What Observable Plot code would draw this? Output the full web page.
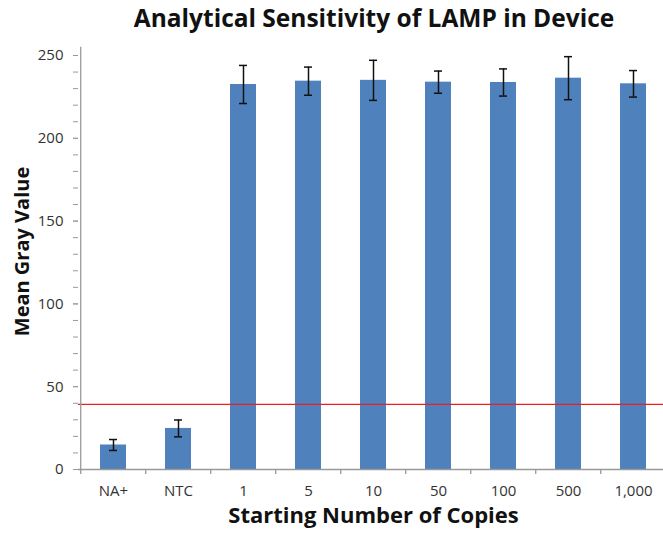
<!DOCTYPE html>
<html>
<head>
<meta charset="utf-8">
<script src="https://cdn.jsdelivr.net/npm/d3@7"></script>
<script src="https://cdn.jsdelivr.net/npm/@observablehq/plot@0.6"></script>
<style>
  body { margin: 0; background: #fff; }
  #title { font-family: "Open Sans", sans-serif; font-weight: 700; font-size: 24.5px; line-height: 30px; height: 45px; box-sizing: border-box; padding-top: 3px; padding-left: 85px; width: 663px; text-align: center; color: #111; white-space: nowrap; }
</style>
</head>
<body>
<div id="title">Analytical Sensitivity of LAMP in Device</div>
<div id="chart"></div>
<script>
const categories = ["NA+", "NTC", "1", "5", "10", "50", "100", "500", "1,000"];
const means = [14.8, 24.8, 232.5, 234.5, 235, 233.9, 233.7, 236.3, 232.9];
const errors = [3.3, 5.1, 11.5, 8.5, 12.1, 6.7, 8.2, 13, 8];
const threshold = 39.3;
const yMajorTicks = [0, 50, 100, 150, 200, 250];
const yMinorTicks = d3.range(0, 251, 10);

const data = categories.map((c, i) => ({cat: c, mean: means[i], err: errors[i]}));

const width = 663, height = 490, marginLeft = 78, marginRight = -5, marginTop = 10, marginBottom = 66;
const step = (width - marginLeft - marginRight) / categories.length;
const font = '"Open Sans", sans-serif';

const chart = Plot.plot({
  width, height, marginLeft, marginRight, marginTop, marginBottom,
  style: {fontFamily: font, fontSize: "15px", color: "#333", background: "#fff", overflow: "visible"},
  x: {domain: categories, paddingInner: 0.6, paddingOuter: 0.3, label: null},
  y: {domain: [0, 250], label: null},
  marks: [
    Plot.barY(data, {x: "cat", y: "mean", fill: "#4f81bd"}),
    Plot.ruleX(data, {x: "cat", y1: d => d.mean - d.err, y2: d => d.mean + d.err, stroke: "#111", strokeWidth: 1.5}),
    Plot.tickY(data, {x: "cat", y: d => d.mean - d.err, stroke: "#111", strokeWidth: 1.5, insetLeft: 9, insetRight: 9}),
    Plot.tickY(data, {x: "cat", y: d => d.mean + d.err, stroke: "#111", strokeWidth: 1.5, insetLeft: 9, insetRight: 9}),
    Plot.ruleY([threshold], {stroke: "#ee1c25", strokeWidth: 1.3}),
    Plot.ruleY([0], {stroke: "#999", strokeWidth: 1.3}),
    Plot.ruleX([categories[0]], {x: d => d, y1: 0, y2: 255, dx: -step / 2, stroke: "#999", strokeWidth: 1.3}),
    Plot.ruleX(categories, {x: d => d, y1: 0, y2: -3, dx: -step / 2, stroke: "#999", strokeWidth: 1.3}),
    Plot.axisY({ticks: yMinorTicks, tickSize: 5, text: null, stroke: "#999", label: null}),
    Plot.axisY({ticks: yMajorTicks, tickSize: 5, tickPadding: 10, stroke: "#999", fill: "#333", fontSize: 15, label: null}),
    Plot.axisX({tickSize: 0, tickPadding: 16, fill: "#333", fontSize: 15, label: null}),
    Plot.text(["Mean Gray Value"], {frameAnchor: "left", textAnchor: "middle", rotate: -90, dx: -56, dy: -11, fontSize: 20, fontWeight: 700, fill: "#111"}),
    Plot.text(["Starting Number of Copies"], {frameAnchor: "bottom", textAnchor: "middle", dy: 53, fontSize: 22, fontWeight: 700, fill: "#111"})
  ]
});
document.getElementById("chart").appendChild(chart);
</script>
</body>
</html>
